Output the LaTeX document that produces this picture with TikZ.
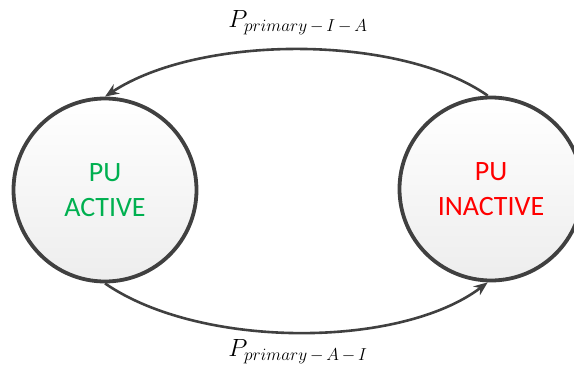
\documentclass[tikz,border=0pt]{standalone}
\usepackage{fontspec}
\setmainfont{Carlito}
\usetikzlibrary{arrows.meta,shadows}
\definecolor{edgegray}{HTML}{404040}
\definecolor{activegreen}{HTML}{00B050}
\definecolor{inactivered}{HTML}{FF0000}
\newcommand{\sublab}[1]{\mbox{\fontsize{17}{19}\selectfont$#1$}}
\tikzset{
  statebox/.style={circle, draw=edgegray, line width=3.8pt, minimum size=183pt,
    top color=white, bottom color=black!7, align=center,
    font=\fontsize{28}{35}\selectfont, inner sep=0pt,
    drop shadow={opacity=0.12, shadow xshift=1.5pt, shadow yshift=-1.5pt}},
  trans/.style={draw=edgegray, line width=2.6pt, -{Stealth[length=14pt,width=11pt]}},
  lab/.style={font=\fontsize{23}{26}\selectfont, inner sep=0pt}
}
\begin{document}
\begin{tikzpicture}[x=1pt,y=-1pt]
\useasboundingbox (0,0) rectangle (574,370);
\node[statebox, text=activegreen] (A) at (105,190) {PU\\ACTIVE};
\node[statebox, text=inactivered] (I) at (491,189) {PU\\INACTIVE};
\draw[trans] (I.92) .. controls (400,34) and (200,34) .. (A.90);
\draw[trans] (A.-90) .. controls (200,349) and (400,349) .. (I.-92);
\node[lab] (top) at (298,23) {$P_{\sublab{primary\,{-}\,I\,{-}\,A}}$};
\node[lab] (bot) at (298,352) {$P_{\sublab{primary\,{-}\,A\,{-}\,I}}$};
\end{tikzpicture}
\end{document}
